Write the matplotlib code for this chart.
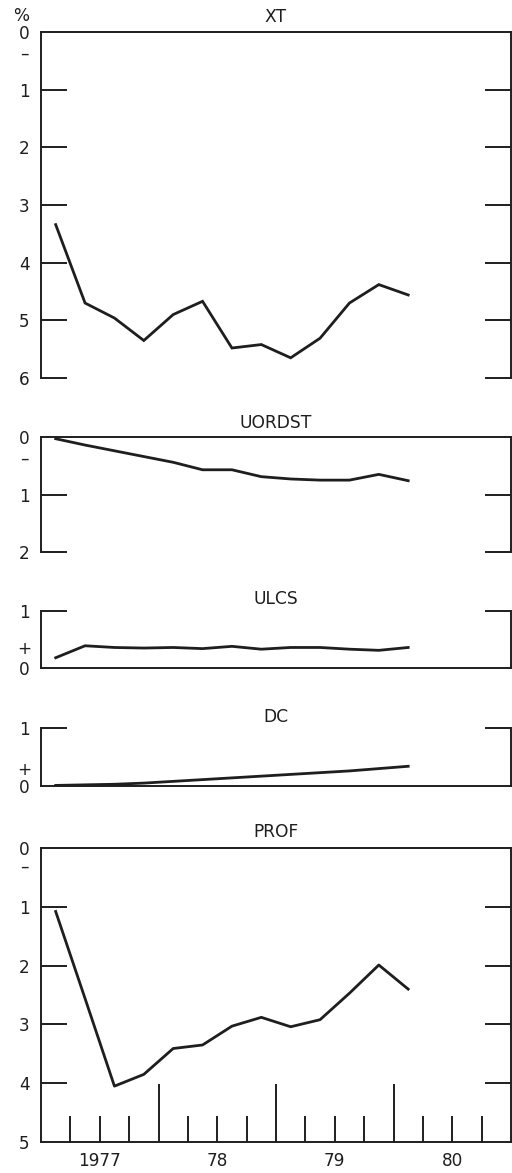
import matplotlib
matplotlib.use("Agg")
import matplotlib.pyplot as plt
from matplotlib.transforms import blended_transform_factory

# Quarterly observations, plotted at the middle of each quarter (1977Q1 .. 1980Q1)
quarters = [1977.125, 1977.375, 1977.625, 1977.875,
            1978.125, 1978.375, 1978.625, 1978.875,
            1979.125, 1979.375, 1979.625, 1979.875,
            1980.125]

xt = [3.34, 4.70, 4.96, 5.35, 4.90, 4.67, 5.48, 5.42, 5.65, 5.31, 4.70, 4.38, 4.56]
uordst = [0.03, 0.14, 0.24, 0.34, 0.44, 0.57, 0.57, 0.69, 0.73, 0.75, 0.75, 0.65, 0.76]
ulcs = [0.18, 0.39, 0.36, 0.35, 0.36, 0.34, 0.38, 0.33, 0.36, 0.36, 0.33, 0.31, 0.36]
dc = [0.01, 0.02, 0.03, 0.05, 0.08, 0.11, 0.14, 0.17, 0.20, 0.23, 0.26, 0.30, 0.34]
prof = [1.08, 2.56, 4.05, 3.85, 3.41, 3.35, 3.03, 2.88, 3.04, 2.92, 2.47, 1.99, 2.40]

year_labels = ["1977", "78", "79", "80"]
year_label_pos = [1977.5, 1978.5, 1979.5, 1980.5]
year_bounds = [1978, 1979, 1980]
quarter_ticks = [1977.25, 1977.75, 1978.25, 1978.75, 1979.25, 1979.75, 1980.25, 1980.75]

W, H = 512, 1173
DPI = 100
fig = plt.figure(figsize=(W / DPI, H / DPI), dpi=DPI)
plt.rcParams["font.family"] = ["DejaVu Sans"]

INK = "#1e1e1e"
LW_AX = 1.4
LW_DATA = 2.0
TICK_LEN = 18.5
FS = 12.2
FS_TITLE = 12.3


def make_axes(top_px, bottom_px):
    left_px, right_px = 41, 511
    return fig.add_axes([left_px / W, 1 - bottom_px / H,
                         (right_px - left_px) / W, (bottom_px - top_px) / H])


def style_y(ax, ticks, labels, blank):
    ax.set_yticks(ticks)
    ax.set_yticklabels(labels)
    ax.tick_params(axis="y", which="major", direction="in", length=TICK_LEN,
                   width=LW_AX, color=INK, left=True, right=True,
                   labelleft=True, labelright=False, pad=12,
                   labelsize=FS, labelcolor=INK)
    for lab in ax.get_yticklabels():
        lab.set_horizontalalignment("center")
    for i, t in enumerate(ax.yaxis.get_major_ticks()):
        if i in blank:
            t.tick1line.set_visible(False)
            t.tick2line.set_visible(False)
    for s in ax.spines.values():
        s.set_linewidth(LW_AX)
        s.set_color(INK)


def base(ax):
    ax.set_xlim(1977.0, 1981.0)
    ax.set_xticks([])
    ax.set_facecolor("none")


def title(text, y_px):
    fig.text(276 / W, 1 - y_px / H, text, ha="center", va="center",
             fontsize=FS_TITLE, color=INK)


# XT
ax1 = make_axes(32, 378)
base(ax1)
ax1.plot(quarters, xt, color=INK, lw=LW_DATA, solid_joinstyle="miter")
ax1.set_ylim(6, 0)
style_y(ax1, [0, 0.34, 1, 2, 3, 4, 5, 6],
        ["0", "\u2013", "1", "2", "3", "4", "5", "6"], blank={0, 1})
ax1.spines["bottom"].set_visible(False)
tr = blended_transform_factory(ax1.transAxes, ax1.transData)
ax1.text(-0.0425, -0.28, "%", transform=tr, ha="center", va="center",
         fontsize=FS, color=INK)
title("XT", 17)

# UORDST
ax2 = make_axes(437, 552)
base(ax2)
ax2.plot(quarters, uordst, color=INK, lw=LW_DATA)
ax2.set_ylim(2, 0)
style_y(ax2, [0, 0.35, 1, 2], ["0", "\u2013", "1", "2"], blank={0, 1})
ax2.spines["bottom"].set_visible(False)
title("UORDST", 423)

# ULCS
ax3 = make_axes(611, 668)
base(ax3)
ax3.plot(quarters, ulcs, color=INK, lw=LW_DATA)
ax3.set_ylim(0, 1)
style_y(ax3, [0, 0.36, 1], ["0", "+", "1"], blank={0, 1})
ax3.spines["top"].set_visible(False)
title("ULCS", 599)

# DC
ax4 = make_axes(728, 786)
base(ax4)
ax4.plot(quarters, dc, color=INK, lw=LW_DATA)
ax4.set_ylim(0, 1)
style_y(ax4, [0, 0.31, 1], ["0", "+", "1"], blank={0, 1})
ax4.spines["top"].set_visible(False)
title("DC", 717)

# PROF
ax5 = make_axes(848, 1142)
ax5.set_facecolor("none")
ax5.set_xlim(1977.0, 1981.0)
ax5.plot(quarters, prof, color=INK, lw=LW_DATA)
ax5.set_ylim(5, 0)
style_y(ax5, [0, 0.29, 1, 2, 3, 4, 5],
        ["0", "\u2013", "1", "2", "3", "4", "5"], blank={0, 1, 6})
ax5.set_xticks(year_label_pos)
ax5.set_xticklabels(year_labels)
ax5.set_xticks(quarter_ticks, minor=True)
ax5.tick_params(axis="x", which="both", direction="in", length=TICK_LEN,
                width=LW_AX, color=INK, top=False, bottom=True,
                labelsize=FS, labelcolor=INK, pad=7)
sec = ax5.secondary_xaxis("bottom")
sec.set_xticks(year_bounds)
sec.set_xticklabels([])
sec.tick_params(axis="x", direction="in", length=42, width=LW_AX, color=INK)
sec.spines["bottom"].set_visible(False)
title("PROF", 832)

fig.savefig("out.png", dpi=DPI, facecolor="white")
